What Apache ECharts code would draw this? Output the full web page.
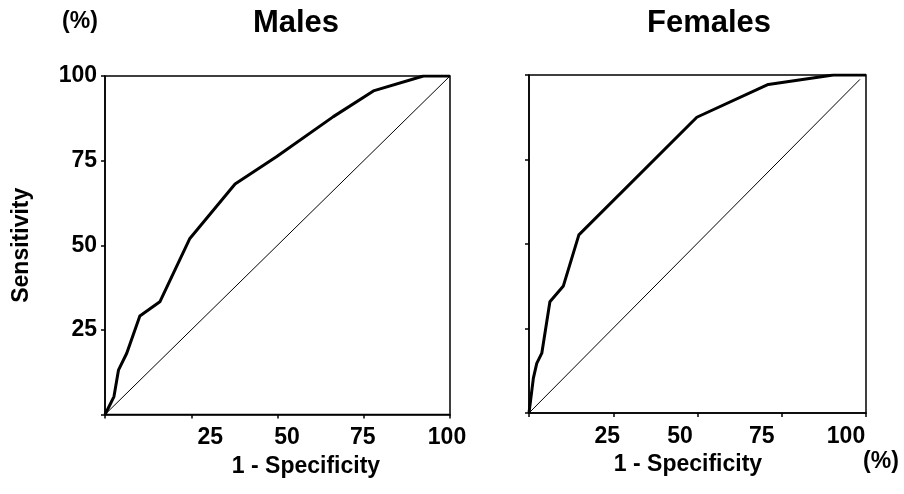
<!DOCTYPE html>
<html>
<head>
<meta charset="utf-8">
<script src="https://cdn.jsdelivr.net/npm/echarts@6/dist/echarts.min.js"></script>
<style>
html,body{margin:0;padding:0;background:#fff;}
#chart{width:904px;height:494px;}
</style>
</head>
<body>
<div id="chart"></div>
<script>
// ROC curve points: [1 - specificity (%), sensitivity (%)]
const malesROC = [[0,0],[1.4,2.8],[2.6,5.3],[3.9,13.1],[6.3,18.1],[10.1,29.1],[15.9,33.3],[24.6,52.0],[37.7,68.1],[49.8,76.2],[66.2,88.0],[77.8,95.6],[92.3,100],[100,100]];
const femalesROC = [[0,0],[1.3,10.3],[2.3,14.7],[3.8,17.7],[6.2,32.9],[10.2,37.6],[14.8,52.7],[49.8,87.5],[71.0,97.2],[90.3,100],[100,100]];
const malesDiagonal = [[0,0],[100,100]];
const femalesDiagonal = [[0,0],[98.2,98.7]];
const tickLabels = ['25','50','75','100'];
const titles = ['Males','Females'];
const xName = '1 - Specificity';
const yName = 'Sensitivity';

const FONT = '"Liberation Sans", Arial, sans-serif';
const chart = echarts.init(document.getElementById('chart'));

// shift (px) of each x tick label relative to its tick, per panel
const leftShift = {25:19, 50:9.5, 75:-1, 100:-3};
const rightShift = {25:-6, 50:-17.5, 75:-20, 100:-20};
function richFor(shifts){
  const r = {};
  tickLabels.forEach(t=>{
    const s = shifts[t];
    r['l'+t] = {fontFamily:FONT,fontWeight:'bold',fontSize:23,color:'#000',
      padding: s>=0 ? [0,0,0,2*s] : [0,-2*s,0,0]};
  });
  return r;
}
function xAxisFor(gi, shifts, nameShift, nameGap){
  return {
    type:'value', gridIndex:gi, min:0, max:100, interval:25,
    name:xName, nameLocation:'middle', nameGap:nameGap,
    nameTextStyle:{fontFamily:FONT,fontWeight:'bold',fontSize:23,color:'#000',
      padding: nameShift>=0 ? [0,0,0,2*nameShift] : [0,-2*nameShift,0,0]},
    axisLine:{show:true,lineStyle:{color:'#000',width:1.5}},
    axisTick:{show:true,inside:false,length:4,lineStyle:{color:'#000',width:1.5}},
    splitLine:{show:false},
    axisLabel:{margin:12,
      formatter:v=> (v===0 ? '' : '{l'+v+'|'+v+'}'),
      rich:richFor(shifts)}
  };
}
function yAxisFor(gi, showLabels){
  return {
    type:'value', gridIndex:gi, min:0, max:100, interval:25,
    name: showLabels ? yName : '', nameLocation:'middle', nameGap:72,
    nameTextStyle:{fontFamily:FONT,fontWeight:'bold',fontSize:23,color:'#000'},
    axisLine:{show:true,lineStyle:{color:'#000',width:1.5}},
    axisTick:{show:true,inside:false,length:4,lineStyle:{color:'#000',width:1.5}},
    splitLine:{show:false},
    axisLabel:{show:showLabels,margin:8,fontFamily:FONT,fontWeight:'bold',fontSize:23,color:'#000',
      formatter:v=> (v===0 ? '' : String(v))}
  };
}
function lineSeries(data, gi, width){
  return {type:'line', xAxisIndex:gi, yAxisIndex:gi, data:data, showSymbol:false,
    symbol:'none', silent:true, animation:false,
    lineStyle:{color:'#000',width:width,join:'round'}};
}

chart.setOption({
  backgroundColor:'#fff',
  animation:false,
  grid:[
    {left:105, top:76, width:345, height:338.5, show:true, borderColor:'#000', borderWidth:1.5, backgroundColor:'transparent'},
    {left:529, top:75, width:337, height:338, show:true, borderColor:'#000', borderWidth:1.5, backgroundColor:'transparent'}
  ],
  xAxis:[ xAxisFor(0,leftShift,28.5,41), xAxisFor(1,rightShift,-9.5,36) ],
  yAxis:[ yAxisFor(0,true), yAxisFor(1,false) ],
  series:[
    lineSeries(malesDiagonal,0,1),
    lineSeries(malesROC,0,3),
    lineSeries(femalesDiagonal,1,1),
    lineSeries(femalesROC,1,3)
  ],
  graphic:[
    {type:'text', x:296, y:23, style:{text:titles[0], fontFamily:FONT, fontWeight:'bold', fontSize:31, fill:'#000', textAlign:'center', textVerticalAlign:'middle'}},
    {type:'text', x:709, y:23, style:{text:titles[1], fontFamily:FONT, fontWeight:'bold', fontSize:31, fill:'#000', textAlign:'center', textVerticalAlign:'middle'}},
    {type:'text', x:80, y:22, style:{text:'(%)', fontFamily:FONT, fontWeight:'bold', fontSize:23, fill:'#000', textAlign:'center', textVerticalAlign:'middle'}},
    {type:'text', x:881, y:462, style:{text:'(%)', fontFamily:FONT, fontWeight:'bold', fontSize:23, fill:'#000', textAlign:'center', textVerticalAlign:'middle'}}
  ]
});
</script>
</body>
</html>
